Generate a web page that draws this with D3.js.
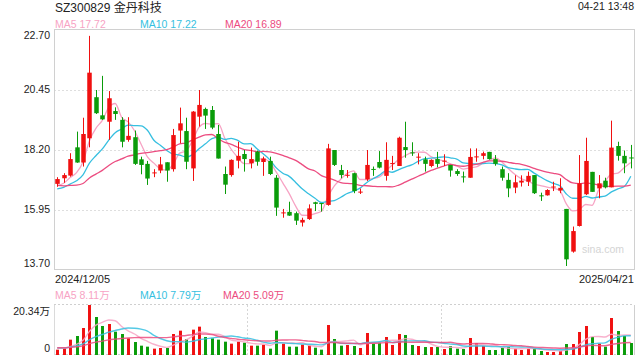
<!DOCTYPE html>
<html><head><meta charset="utf-8">
<script src="https://cdn.jsdelivr.net/npm/d3@7"></script>
<style>
html,body{margin:0;padding:0;background:#fff;}
svg{display:block;font-family:Arial,"Liberation Sans","Noto Sans CJK SC",sans-serif;}
</style></head><body>
<svg id="c" width="640" height="360"></svg>
<script>
const title = "SZ300829 金丹科技";
const timeLabel = "04-21 13:48";
const dateLabels = ["2024/12/05", "2025/04/21"];
const priceTicks = [22.70, 20.45, 18.20, 15.95, 13.70];
const volTicks = [0, 20.34];
const priceMaLabels = ["MA5 17.72", "MA10 17.22", "MA20 16.89"];
const volMaLabels = ["MA5 8.11万", "MA10 7.79万", "MA20 5.09万"];
const maPeriods = [5, 10, 20];
const maColors = ["#f7a3c4", "#36bfe0", "#ec4c80"];

const opens = [16.93,17.14,17.24,18.30,17.73,18.64,20.18,19.50,19.26,19.66,
 19.33,18.58,18.68,17.85,17.68,17.34,17.43,17.74,17.48,18.93,
 18.91,17.51,19.45,19.74,19.70,18.80,17.30,17.26,17.80,18.05,
 17.70,18.14,17.75,17.79,17.16,15.84,15.88,15.83,15.48,15.61,
 16.24,16.21,16.14,18.20,17.45,17.24,17.33,16.61,17.10,17.49,
 17.75,17.23,17.69,17.60,18.31,18.11,17.93,17.85,17.60,17.86,
 17.78,17.64,17.41,17.21,17.16,17.94,17.98,18.13,17.86,17.48,
 17.08,16.79,16.98,17.01,17.26,16.50,16.50,16.81,16.68,15.99,
 14.39,15.35,16.54,17.38,16.76,17.05,16.80,18.35,17.98,17.92];
const highs = [17.18,17.33,18.08,18.89,19.41,22.48,20.45,20.98,20.41,19.80,
 19.43,19.43,18.93,17.95,17.79,17.48,17.94,17.74,18.99,19.79,
 19.41,19.66,20.45,19.79,19.85,19.14,17.58,17.85,18.51,18.20,
 18.29,18.18,17.95,17.95,17.26,15.99,16.26,15.89,15.66,16.16,
 16.26,16.21,18.43,18.20,17.64,17.45,17.35,16.75,18.20,17.58,
 18.16,18.49,17.98,18.70,19.26,18.49,18.08,17.95,17.85,18.13,
 18.04,17.64,17.48,17.39,18.26,18.26,18.14,18.13,18.01,17.58,
 17.33,17.25,17.25,17.39,17.26,16.60,16.73,17.01,17.14,15.99,
 15.33,18.01,18.66,17.38,17.26,17.16,19.30,18.51,18.18,18.39];
const lows = [16.82,16.97,17.20,17.72,17.58,18.30,19.55,19.33,18.58,19.33,
 18.30,18.51,17.64,17.29,16.89,17.18,17.33,17.01,17.39,18.45,
 17.48,17.04,19.08,18.99,18.98,17.88,16.55,17.20,17.51,17.39,
 17.51,17.61,17.23,17.26,15.73,15.66,15.73,15.39,15.33,15.58,
 15.91,15.89,16.11,17.60,17.14,17.16,16.58,16.55,17.04,17.23,
 17.51,17.05,17.45,17.60,17.91,17.98,17.66,17.39,17.55,17.55,
 17.60,17.20,17.23,16.98,17.16,17.76,17.85,17.84,17.61,17.05,
 16.43,16.58,16.83,16.85,16.55,16.29,16.49,16.66,16.58,13.85,
 14.35,15.33,16.51,16.63,16.39,16.76,16.80,17.80,17.33,17.51];
const closes = [17.11,17.26,17.86,17.73,18.80,21.10,19.58,19.35,20.14,19.55,
 18.51,18.73,17.68,17.64,17.13,17.36,17.66,17.43,18.76,19.20,
 17.76,19.64,19.89,19.49,19.04,17.88,16.90,17.83,17.98,17.86,
 17.86,17.76,17.88,17.30,16.04,15.86,15.74,15.55,15.58,16.01,
 16.18,16.19,18.26,17.64,17.26,17.27,16.66,16.64,17.64,17.46,
 17.54,17.83,17.71,18.66,18.20,18.09,17.95,17.68,17.83,17.68,
 17.80,17.43,17.30,17.19,17.94,17.96,18.08,17.86,17.68,17.16,
 16.76,16.99,17.05,17.23,16.58,16.48,16.70,16.83,16.78,14.10,
 15.16,16.95,17.79,16.63,16.95,16.80,18.29,17.98,17.70,17.90];
// volume in 万 (10k shares)
const volumes = [2.17,2.71,6.24,7.73,10.98,20.34,15.46,11.80,12.61,9.49,
 8.54,6.78,5.29,3.80,3.39,2.58,2.85,2.85,8.54,9.90,
 6.51,10.31,11.53,7.32,6.78,6.24,5.42,4.61,5.42,5.02,
 3.80,3.80,4.20,2.58,9.90,4.61,3.39,3.39,4.20,3.93,
 2.98,2.17,12.20,6.51,3.80,4.07,3.66,2.85,8.95,4.61,
 5.15,7.32,4.07,8.54,8.14,4.07,3.66,3.25,3.25,3.25,
 2.44,3.66,2.58,2.44,6.92,4.88,3.66,2.03,2.03,2.85,
 3.25,2.58,2.03,2.58,2.58,1.63,1.22,1.22,1.63,4.47,
 4.47,9.36,11.80,7.32,4.61,3.39,15.05,9.76,7.73,4.88];
// sessions just before the visible window (estimated from where the MA lines start)
const priorCloses = [17.6,17.5,17.5,17.6,16.9,16.7,16.6,16.5,16.5,16.6,16.7,16.6,16.5,16.6,16.7,16.8,16.8,16.8,16.8];
const priorVolumes = [3.1,2.9,3.2,3.0,2.8,3.1,3.0,2.9,3.2,3.0,2.7,3.1,2.9,3.0,3.2,2.8,3.0,3.1,2.9];

const RED = "#f01010", GREEN = "#0a9c0a";
const svg = d3.select("#c");
const L = 54, R = 634;
const x = d3.scaleBand().domain(d3.range(closes.length)).range([L, R]);
const cx = i => x(i) + x.bandwidth() / 2;
const y = d3.scaleLinear().domain([13.70, 22.70]).range([270, 30]);
const yv = d3.scaleLinear().domain([0, 20.34]).range([355, 305]);

function movingAvg(prior, vals, p) {
  const all = prior.concat(vals), off = prior.length;
  return vals.map((_, i) => d3.mean(all.slice(off + i - p + 1, off + i + 1)));
}

// header texts
svg.append("text").attr("x", 55).attr("y", 12).attr("font-size", 12).attr("fill", "#222").text(title);
svg.append("text").attr("x", R).attr("y", 9.5).attr("text-anchor", "end").attr("font-size", 10.5).attr("fill", "#222").text(timeLabel);
const legX = [55, 140, 225];
priceMaLabels.forEach((t, k) => svg.append("text").attr("x", legX[k]).attr("y", 27.5).attr("font-size", 10.5).attr("fill", maColors[k]).text(t));
const vlegX = [55, 140, 223];
volMaLabels.forEach((t, k) => svg.append("text").attr("x", vlegX[k]).attr("y", 299).attr("font-size", 10.5).attr("fill", maColors[k]).text(t));

// main grid
svg.append("g").selectAll("line").data(priceTicks.slice(1, -1)).join("line")
  .attr("x1", L).attr("x2", R).attr("y1", d => Math.round(y(d)) + 0.5).attr("y2", d => Math.round(y(d)) + 0.5)
  .attr("stroke", "#dedede").attr("stroke-dasharray", "2,2");
svg.append("rect").attr("x", L + 0.5).attr("y", 29.5).attr("width", R - L).attr("height", 240)
  .attr("fill", "none").attr("stroke", "#d0d0d0");

// price axis
const ya = svg.append("g").attr("transform", `translate(${L},0)`)
  .call(d3.axisLeft(y).tickValues(priceTicks).tickFormat(d3.format(".2f")).tickSize(0).tickPadding(4));
ya.select(".domain").remove();
ya.selectAll("text").attr("font-size", 10.5).attr("font-family", "Arial,'Liberation Sans',sans-serif").attr("fill", "#222")
  .attr("y", d => d === 22.70 ? 5 : (d === 13.70 ? -7 : -1));

// watermark
svg.append("text").attr("x", 582).attr("y", 253).attr("font-size", 10.5).attr("fill", "#d4d4d4").text("sina.com");

// price MA lines
const line = d3.line().x((d, i) => cx(i)).y(d => y(d)).curve(d3.curveMonotoneX);
maPeriods.forEach((p, k) => {
  svg.append("path").datum(movingAvg(priorCloses, closes, p)).attr("d", line)
    .attr("fill", "none").attr("stroke", maColors[k]).attr("stroke-width", 1.3);
});

// candles
const bw = x.bandwidth() * 0.7;
const cg = svg.append("g").selectAll("g").data(closes.map((c, i) => i)).join("g")
  .attr("fill", i => closes[i] >= opens[i] ? RED : GREEN)
  .attr("stroke", i => closes[i] >= opens[i] ? RED : GREEN);
cg.append("line").attr("x1", i => Math.round(cx(i)) + 0.5).attr("x2", i => Math.round(cx(i)) + 0.5)
  .attr("y1", i => y(highs[i])).attr("y2", i => y(lows[i])).attr("stroke-width", 1);
cg.append("rect").attr("stroke", "none")
  .attr("x", i => Math.round(cx(i)) + 0.5 - bw / 2)
  .attr("y", i => y(Math.max(opens[i], closes[i])))
  .attr("width", bw)
  .attr("height", i => Math.max(1, Math.abs(y(opens[i]) - y(closes[i]))));

// volume panel frame
const vf = svg.append("g");
[305, 355].forEach(v => vf.append("line").attr("x1", L).attr("x2", R).attr("y1", v - 0.5).attr("y2", v - 0.5)
  .attr("stroke", "#cfcfcf").attr("stroke-dasharray", "2,2"));
[1, 2].forEach(k => {
  const xx = Math.round(L + (R - L) * k / 3) + 0.5;
  vf.append("line").attr("x1", xx).attr("x2", xx).attr("y1", 305).attr("y2", 355)
    .attr("stroke", "#d6d6d6").attr("stroke-dasharray", "2,2");
});
vf.append("line").attr("x1", L + 0.5).attr("x2", L + 0.5).attr("y1", 305).attr("y2", 355).attr("stroke", "#dadada");
vf.append("line").attr("x1", R + 0.5).attr("x2", R + 0.5).attr("y1", 305).attr("y2", 355).attr("stroke", "#cfcfcf");

// volume axis
const va = svg.append("g").attr("transform", `translate(${L},0)`)
  .call(d3.axisLeft(yv).tickValues(volTicks).tickFormat(d => d === 0 ? "0" : d.toFixed(2) + "万").tickSize(0).tickPadding(4));
va.select(".domain").remove();
va.selectAll("text").attr("font-size", 10.5).attr("font-family", "Arial,'Liberation Sans','Noto Sans CJK SC',sans-serif").attr("fill", "#222")
  .attr("y", d => d === 0 ? -7 : 6);

// volume bars
const vbw = x.bandwidth() * 0.46;
svg.append("g").selectAll("rect").data(volumes).join("rect")
  .attr("x", (d, i) => Math.round(cx(i)) + 0.5 - vbw / 2)
  .attr("y", d => yv(d))
  .attr("width", vbw)
  .attr("height", d => yv(0) - yv(d))
  .attr("fill", (d, i) => closes[i] >= opens[i] ? RED : GREEN);

// volume MA lines
const vline = d3.line().x((d, i) => cx(i)).y(d => yv(d)).curve(d3.curveMonotoneX);
maPeriods.forEach((p, k) => {
  svg.append("path").datum(movingAvg(priorVolumes, volumes, p)).attr("d", vline)
    .attr("fill", "none").attr("stroke", maColors[k]).attr("stroke-width", 1.4).attr("stroke-opacity", 0.85);
});

// date labels
svg.append("text").attr("x", 55).attr("y", 282.5).attr("font-size", 11).attr("fill", "#222").text(dateLabels[0]);
svg.append("text").attr("x", R).attr("y", 282.5).attr("text-anchor", "end").attr("font-size", 11).attr("fill", "#222").text(dateLabels[1]);
</script></body></html>
